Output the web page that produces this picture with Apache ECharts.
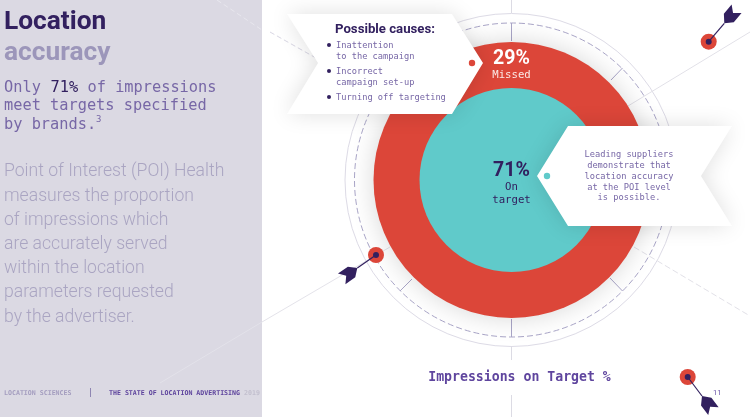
<!DOCTYPE html>
<html><head><meta charset="utf-8">
<style>html,body{margin:0;padding:0;background:#fff}#c{width:750px;height:417px}</style>
<script src="https://cdn.jsdelivr.net/npm/echarts@6/dist/echarts.min.js"></script>
</head><body><div id="c"></div>
<script>
const categories = ['Missed', 'On target'];
const values = [29, 71];
const sideParagraph = ['Point of Interest (POI) Health','measures the proportion','of impressions which','are accurately served','within the location','parameters requested','by the advertiser.'];
const causes = [['Inattention','to the campaign'],['Incorrect','campaign set-up'],['Turning off targeting']];
const supplierNote = ['Leading suppliers','demonstrate that','location accuracy','at the POI level','is possible.'];

const MONO = '"DejaVu Sans Mono", monospace', SANS = 'Roboto, sans-serif';
const DARK = '#32205f', MID = '#7767a6', RED = '#dc4639', TEAL = '#60caca';
const cx = 511.5, cy = 180;
const g = [];
// y is the text baseline; converted to a middle-aligned anchor
const txt = (x,y,text,size,fill,o={}) => g.push({type:'text',z:o.z||20,silent:true,x,y:y-0.23*size,style:{text,fill,
  font:`${o.w||'normal'} ${size}px ${o.mono?MONO:SANS}`,textAlign:o.a||'left',verticalAlign:'middle',textVerticalAlign:'middle'}});
const line = (x1,y1,x2,y2,stroke,o={}) => g.push({type:'line',z:o.z||1,silent:true,shape:{x1,y1,x2,y2},style:{stroke,lineWidth:o.lw||1,lineDash:o.dash||null}});
const dot = (x,y,r,fill,z=20) => g.push({type:'circle',z,silent:true,shape:{cx:x,cy:y,r},style:{fill}});

// panel
g.push({type:'rect',z:-5,silent:true,shape:{x:0,y:0,width:262,height:417},style:{fill:'#dbd9e3'}});
txt(4,28,'Location',26.3,DARK,{w:'bold'});
txt(4,59,'accuracy',26.3,'#9c96ba',{w:'bold'});
txt(4,92,'Only',15.3,MID,{mono:true});
txt(50.5,92,values[1]+'%',15.3,DARK,{mono:true});
txt(87.5,92,'of impressions',15.3,MID,{mono:true});
txt(4,110,'meet targets specified',15.3,MID,{mono:true});
txt(4,128.5,'by brands.',15.3,MID,{mono:true});
txt(96,122,'3',9,MID,{mono:true});
sideParagraph.forEach((s,i)=>txt(4,176+i*24.2,s,17.6,'#aaa5c2',{w:300}));
txt(4,394.5,'LOCATION SCIENCES',6.6,'#a49dbf',{mono:true,w:'bold'});
line(90.5,388,90.5,397,'#8f86b2');
txt(109,394.5,'THE STATE OF LOCATION ADVERTISING',6.6,'#5c429c',{mono:true,w:'bold'});
txt(244,394.5,'2019',6.6,'#c2bfce',{mono:true,w:'bold'});

// radial decor
line(217,0,262,30,'#e8e7ee',{dash:[5,3]});
line(270,32,316,58,'#d9d7e4',{dash:[5,3]});
line(628,106,750,32,'#e2e1e8');
line(390,247,262,322,'#e4e3ea');
line(262,322,160,383,'#e3e2ea');
line(634,247,750,316,'#e2e1e8',{dash:[6,3]});
line(cx,0,cx,13,'#dcdbe4');
line(cx,346,cx,360,'#dcdbe4');
line(cx,395,cx,417,'#dcdbe4');
g.push({type:'circle',z:0,silent:true,shape:{cx,cy,r:166.5},style:{fill:'none',stroke:'#dddbe6',lineWidth:1}});
g.push({type:'circle',z:0,silent:true,shape:{cx,cy,r:157},style:{fill:'none',stroke:'#aaa6c8',lineWidth:1,lineDash:[6,3]}});
[[cx,23,cx,41],[cx,319,cx,337],[622.5,68,611,80],[400,291,412,279],[622.5,291,610,278]].forEach(a=>line(a[0],a[1],a[2],a[3],'#aaa6c8',{z:0}));

// arrows
function arrow(tx,ty,fx,fy){
  dot(tx,ty,8,RED,5);
  line(tx,ty,fx,fy,DARK,{z:6,lw:1.2});
  dot(tx,ty,3,DARK,7);
  const d=Math.hypot(fx-tx,fy-ty),ux=(fx-tx)/d,uy=(fy-ty)/d;
  const pts=[[0,0],[7,-6.5],[19,-6.5],[13.5,0],[19,6.5],[7,6.5]].map(p=>[fx+p[0]*ux-p[1]*uy,fy+p[0]*uy+p[1]*ux]);
  g.push({type:'polygon',z:7,silent:true,shape:{points:pts},style:{fill:DARK}});
}
arrow(708.7,41.7,724.3,23.3);
arrow(376,255,357.3,268);
arrow(687.7,377,702,396);
txt(713,395,'11',7.5,'#6a52a8');

// callouts
const shadow={shadowBlur:22,shadowColor:'rgba(0,0,0,0.13)'};
g.push({type:'polygon',z:10,silent:true,shape:{points:[[287,14],[452,14],[483,63],[452,114],[287,114],[318,63]]},style:{fill:'#fff',...shadow}});
g.push({type:'polygon',z:10,silent:true,shape:{points:[[568,126],[732,126],[701,176],[732,226],[568,226],[537,176]]},style:{fill:'#fff',...shadow}});
txt(335,33,'Possible causes:',13.2,DARK,{w:'bold'});
let yy=48;
causes.forEach(c=>{dot(329,yy-3,2,DARK);c.forEach((s,i)=>{txt(336,yy,s,8.7,MID,{mono:true});yy+=i<c.length-1?11:15;});});
dot(472,63,3.2,RED);
dot(547,176,3.2,TEAL);
supplierNote.forEach((s,i)=>txt(629,157+i*10.8,s,8.7,MID,{mono:true,a:'center'}));

// centre labels
txt(cx,63.5,values[0]+'%',19.5,'#fff',{w:'bold',a:'center',z:5});
txt(cx,78,categories[0],10.7,'#fbe9e6',{mono:true,a:'center',z:5});
txt(cx,175.5,values[1]+'%',19.5,DARK,{w:'bold',a:'center',z:5});
const onT=categories[1].split(' ');
txt(cx,189.5,onT[0],10.7,DARK,{mono:true,a:'center',z:5});
txt(cx,203,onT[1],10.7,DARK,{mono:true,a:'center',z:5});
txt(519.5,381,'Impressions on Target %',13.2,'#5f459e',{mono:true,w:'bold',a:'center'});

const chart = echarts.init(document.getElementById('c'),null,{renderer:'canvas'});
chart.setOption({
  animation:false,
  backgroundColor:'#fff',
  graphic:{elements:g},
  series:[
    {type:'pie',silent:true,z:2,center:[cx,cy],radius:[0,138],label:{show:false},labelLine:{show:false},
     itemStyle:{color:RED,shadowBlur:26,shadowColor:'rgba(0,0,0,0.16)'},
     data:[{name:categories[0],value:values[0]}]},
    {type:'pie',silent:true,z:3,center:[cx,cy],radius:[0,92],label:{show:false},labelLine:{show:false},
     itemStyle:{color:TEAL},
     data:[{name:categories[1],value:values[1]}]}
  ]
});
</script></body></html>
